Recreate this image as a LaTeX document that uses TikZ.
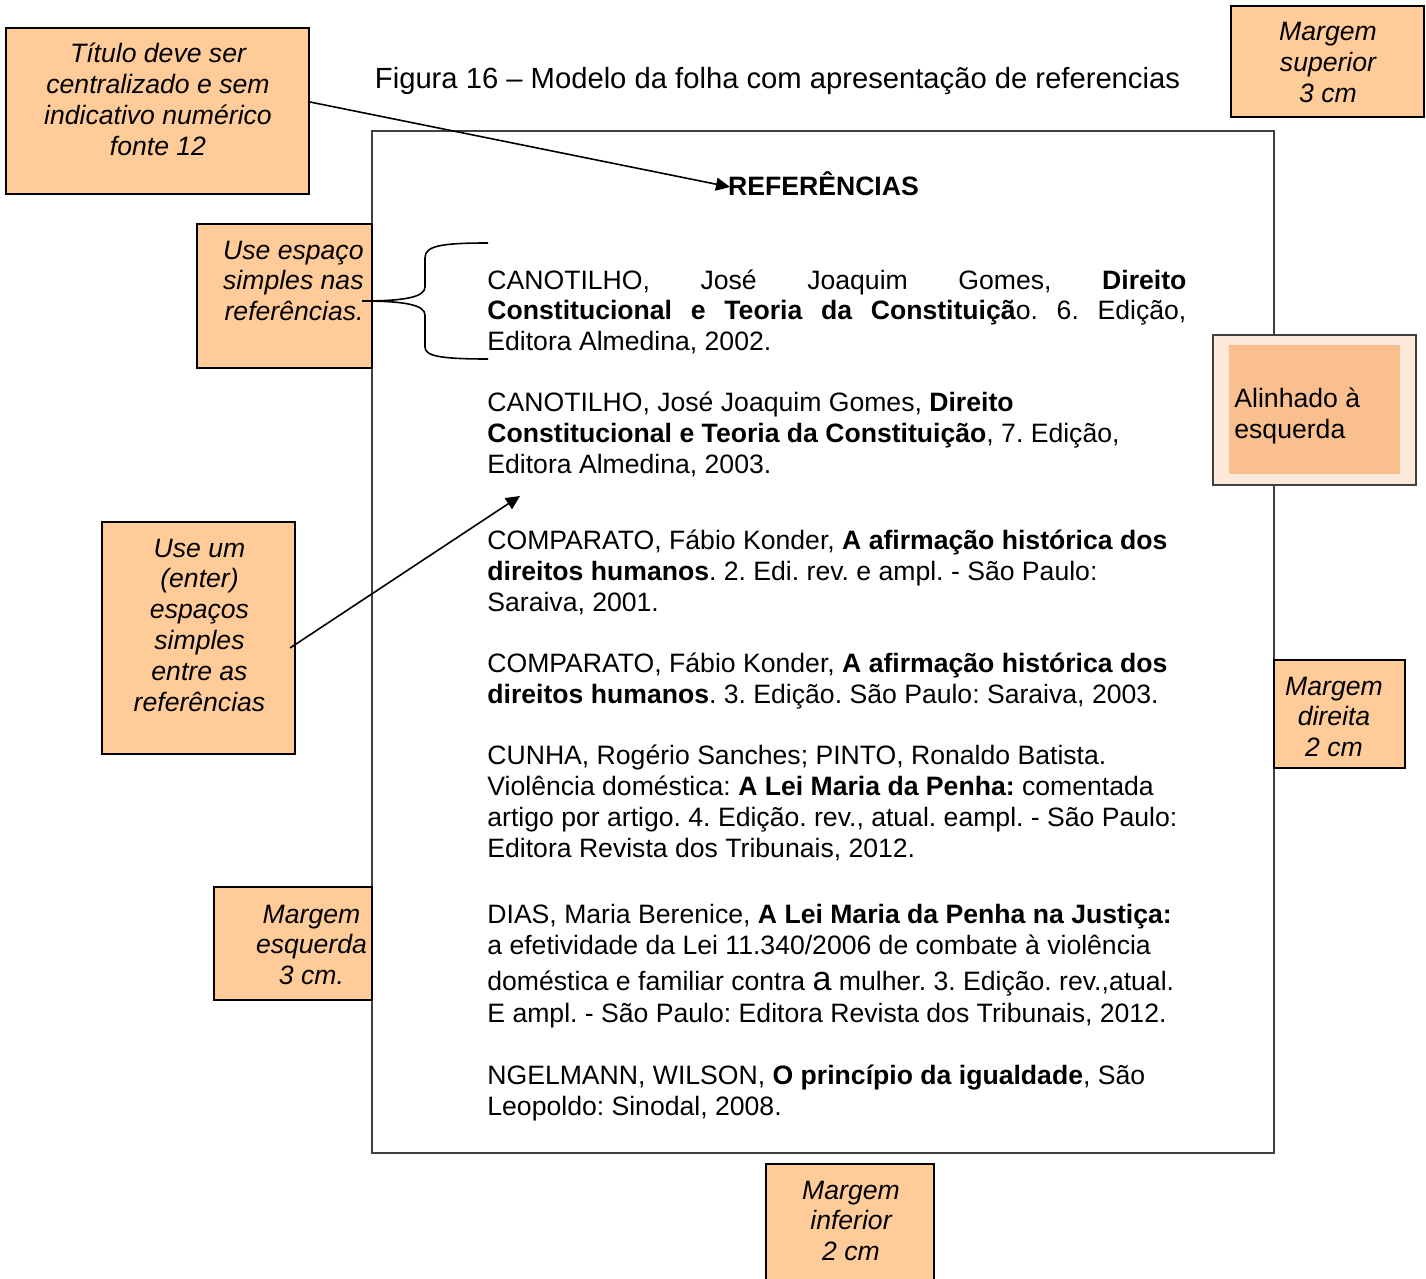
\documentclass[tikz,border=0pt]{standalone}
\usepackage{fontspec}
\setmainfont{Liberation Sans}
\usetikzlibrary{arrows.meta,calc}
\frenchspacing
\newcommand\LinesC[1]{\vtop{\halign{\hfil##\hfil\cr#1\crcr}}}
\newcommand\LinesL[1]{\vtop{\halign{##\hfil\cr#1\crcr}}}
\newcommand\LinesR[1]{\vtop{\halign{\hfil##\cr#1\crcr}}}
\definecolor{calloutfill}{RGB}{255,204,153}
\definecolor{pagegray}{RGB}{64,64,64}
\definecolor{alout}{RGB}{253,233,217}
\definecolor{alin}{RGB}{249,191,143}
\begin{document}
\begin{tikzpicture}[x=0.5pt,y=-0.5pt,
  box/.style={draw=black,line width=1pt,fill=calloutfill,inner sep=0pt},
  reftext/.style={inner sep=0pt,font=\fontsize{13.3}{15.5}\selectfont},
  calltext/.style={inner sep=0pt,font=\itshape\fontsize{13.3}{15.4}\selectfont},
  arr/.style={line width=0.8pt,-{Triangle[length=7pt,width=6.5pt]}},
]
\useasboundingbox (0,0) rectangle (1426,1279);

% page
\node[draw=pagegray,line width=0.8pt,minimum width=451pt,minimum height=511pt,inner sep=0pt] (page) at (823,642) {};

% callout boxes
\node[box,minimum width=151.5pt,minimum height=83pt] (tA) at (157.5,111) {};
\node[box,minimum width=96.5pt,minimum height=55.5pt] (tSup) at (1327.5,61.5) {};
\node[box,minimum width=87.5pt,minimum height=72pt] (tB) at (284.5,296) {};
\node[draw=pagegray,line width=0.6pt,fill=alout,minimum width=101.5pt,minimum height=75pt,inner sep=0pt] (tC) at (1314.5,410) {};
\node[fill=alin,minimum width=85.5pt,minimum height=64.5pt,inner sep=0pt] (tCin) at (1314.5,409.5) {};
\node[box,minimum width=96.5pt,minimum height=116pt] (tD) at (198.5,638) {};
\node[box,minimum width=65.5pt,minimum height=54pt] (tDir) at (1339.5,714) {};
\node[box,minimum width=79pt,minimum height=56.5pt] (tEsq) at (293,943.5) {};
\node[box,minimum width=84pt,minimum height=63pt] (tInf) at (850,1227) {};

% callout texts
\node[calltext,anchor=base] (tAt) at (158,63) {\LinesC{Título deve ser\cr centralizado e sem\cr indicativo numérico\cr fonte 12}};
\node[calltext,anchor=base] (tSupt) at (1328,41) {\LinesC{Margem\cr superior\cr 3 cm}};
\node[calltext,anchor=base east] (tBt) at (364,259) {\LinesR{Use espaço\cr simples nas\cr referências.}};
\node[reftext,anchor=base west] (tCt) at (1234,407) {\LinesL{Alinhado à\cr esquerda}};
\node[calltext,anchor=base] (tDt) at (199.5,557) {\LinesC{Use um\cr (enter)\cr espaços\cr simples\cr entre as\cr referências}};
\node[calltext,anchor=base] (tDirt) at (1334,695) {\LinesC{Margem\cr direita\cr 2 cm}};
\node[calltext,anchor=base] (tEsqt) at (311.5,923) {\LinesC{Margem\cr esquerda\cr 3 cm.}};
\node[calltext,anchor=base] (tInft) at (851,1199) {\LinesC{Margem\cr inferior\cr 2 cm}};

% caption and title
\node[inner sep=0pt,anchor=base,font=\fontsize{14.6}{17}\selectfont] (cap) at (777.5,89) {Figura 16 – Modelo da folha com apresentação de referencias};
\node[reftext,anchor=base,font=\bfseries\fontsize{13.3}{15.5}\selectfont] (reft) at (823.5,196) {REFERÊNCIAS};

% references
\node[reftext,anchor=base west] (r1) at (487,289) {\LinesL{%
\hbox to 349.5pt{CANOTILHO, José Joaquim Gomes, \textbf{Direito}}\cr
\hbox to 349.5pt{\textbf{Constitucional e Teoria da Constituiçã}o. 6. Edição,}\cr
Editora Almedina, 2002.}};
\node[reftext,anchor=base west] (r2) at (487,411) {\LinesL{%
CANOTILHO, José Joaquim Gomes, \textbf{Direito}\cr
\textbf{Constitucional e Teoria da Constituição}, 7. Edição,\cr
Editora Almedina, 2003.}};
\node[reftext,anchor=base west] (r3) at (487,549) {\LinesL{%
COMPARATO, Fábio Konder, \textbf{A afirmação histórica dos}\cr
\textbf{direitos humanos}. 2. Edi. rev. e ampl. - São Paulo:\cr
Saraiva, 2001.}};
\node[reftext,anchor=base west] (r4) at (487,672) {\LinesL{%
COMPARATO, Fábio Konder, \textbf{A afirmação histórica dos}\cr
\textbf{direitos humanos}. 3. Edição. São Paulo: Saraiva, 2003.}};
\node[reftext,anchor=base west] (r5) at (487,764) {\LinesL{%
CUNHA, Rogério Sanches; PINTO, Ronaldo Batista.\cr
Violência doméstica: \textbf{A Lei Maria da Penha:} comentada\cr
artigo por artigo. 4. Edição. rev., atual. eampl. - São Paulo:\cr
Editora Revista dos Tribunais, 2012.}};
\node[reftext,anchor=base west] (r6) at (487,923) {\LinesL{%
DIAS, Maria Berenice, \textbf{A Lei Maria da Penha na Justiça:}\cr
a efetividade da Lei 11.340/2006 de combate à violência\cr
\noalign{\vskip2.5pt}
doméstica e familiar contra {\fontsize{17}{15.5}\selectfont a} mulher. 3. Edição. rev.,atual.\cr
\noalign{\vskip0.5pt}
E ampl. - São Paulo: Editora Revista dos Tribunais, 2012.}};
\node[reftext,anchor=base west] (r7) at (487,1084) {\LinesL{%
NGELMANN, WILSON, \textbf{O princípio da igualdade}, São\cr
Leopoldo: Sinodal, 2008.}};

% brace
\draw[line width=0.8pt] (488,243) .. controls (440,243) and (425,246) .. (425,258) -- (425,287)
  .. controls (425,297) and (405,301) .. (362,301)
  .. controls (405,301) and (425,305) .. (425,315) -- (425,347)
  .. controls (425,356) and (440,359) .. (488,359);

% arrows
\coordinate (tipA) at (730,187);
\coordinate (tipD) at (520,496);
\draw[arr] ($(tA.east)+(0,-9)$) -- (tipA);
\draw[arr] ($(tD.east)+(-6,10)$) -- (tipD);
\end{tikzpicture}
\end{document}
